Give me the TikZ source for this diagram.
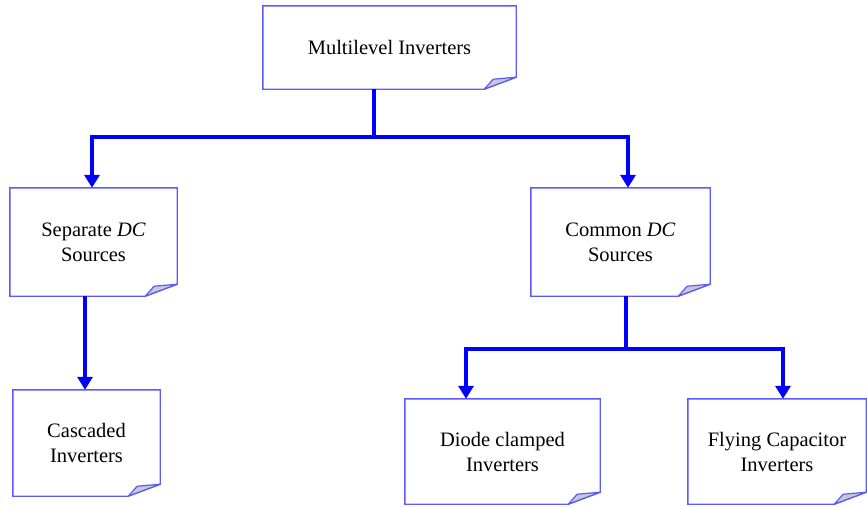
\documentclass[tikz,border=0pt]{standalone}
\usepackage{fontspec}
\setmainfont{Liberation Serif}
\usetikzlibrary{arrows.meta}
\definecolor{boxblue}{RGB}{90,90,255}
\definecolor{foldgray}{RGB}{200,200,212}
\tikzset{
  note/.style={inner sep=0pt, align=center, font=\fontsize{20.5}{25}\selectfont},
  boxline/.style={draw=boxblue, line width=1.4pt},
  foldline/.style={draw=boxblue, line width=1.2pt, fill=foldgray, line join=round},
  bar/.style={draw=blue, line width=4.5pt},
  arr/.style={bar, -{Triangle[width=15pt,length=13pt]}}
}
\begin{document}
\begin{tikzpicture}[x=1pt,y=-1pt]
\useasboundingbox (0,0) rectangle (867,506);

% boxes
\node[note, minimum width=253, minimum height=83] (mli) at (389.5,47.5) {Multilevel Inverters};
\node[note, minimum width=167, minimum height=108] (sep) at (93.5,242) {Separate \textit{DC}\\Sources};
\node[note, minimum width=179, minimum height=108] (com) at (620.5,242) {Common \textit{DC}\\Sources};
\node[note, minimum width=147, minimum height=106] (cas) at (86.5,443) {Cascaded\\Inverters};
\node[note, minimum width=195, minimum height=105] (dio) at (502.5,451.5) {Diode clamped\\Inverters};
\node[note, minimum width=178, minimum height=105] (fly) at (777,451.5) {Flying Capacitor\\Inverters};

% outlines with folded corner
\foreach \n in {mli,sep,com,cas,dio,fly} {
  \draw[boxline] (\n.north west) -- (\n.north east) -- ([yshift=12pt]\n.south east)
    -- ([xshift=-32pt]\n.south east) -- (\n.south west) -- cycle;
  \draw[foldline] ([xshift=-32pt]\n.south east) -- ([xshift=-23pt,yshift=10pt]\n.south east)
    -- ([yshift=12pt]\n.south east) -- cycle;
}

% connectors
\coordinate (j1) at (374,137);
\coordinate (j2) at (626,349);
\draw[bar] (mli.south -| j1) -- (j1);
\draw[arr] (j1) -| ([xshift=-1.5pt]sep.north);
\draw[arr] (j1) -| ([xshift=7.5pt]com.north);
\draw[arr] ([xshift=-8.5pt]sep.south) -- ([xshift=-1.5pt]cas.north);
\draw[bar] (com.south -| j2) -- (j2);
\draw[arr] (j2) -| ([xshift=-36.5pt]dio.north);
\draw[arr] (j2) -| ([xshift=6pt]fly.north);
\end{tikzpicture}
\end{document}
